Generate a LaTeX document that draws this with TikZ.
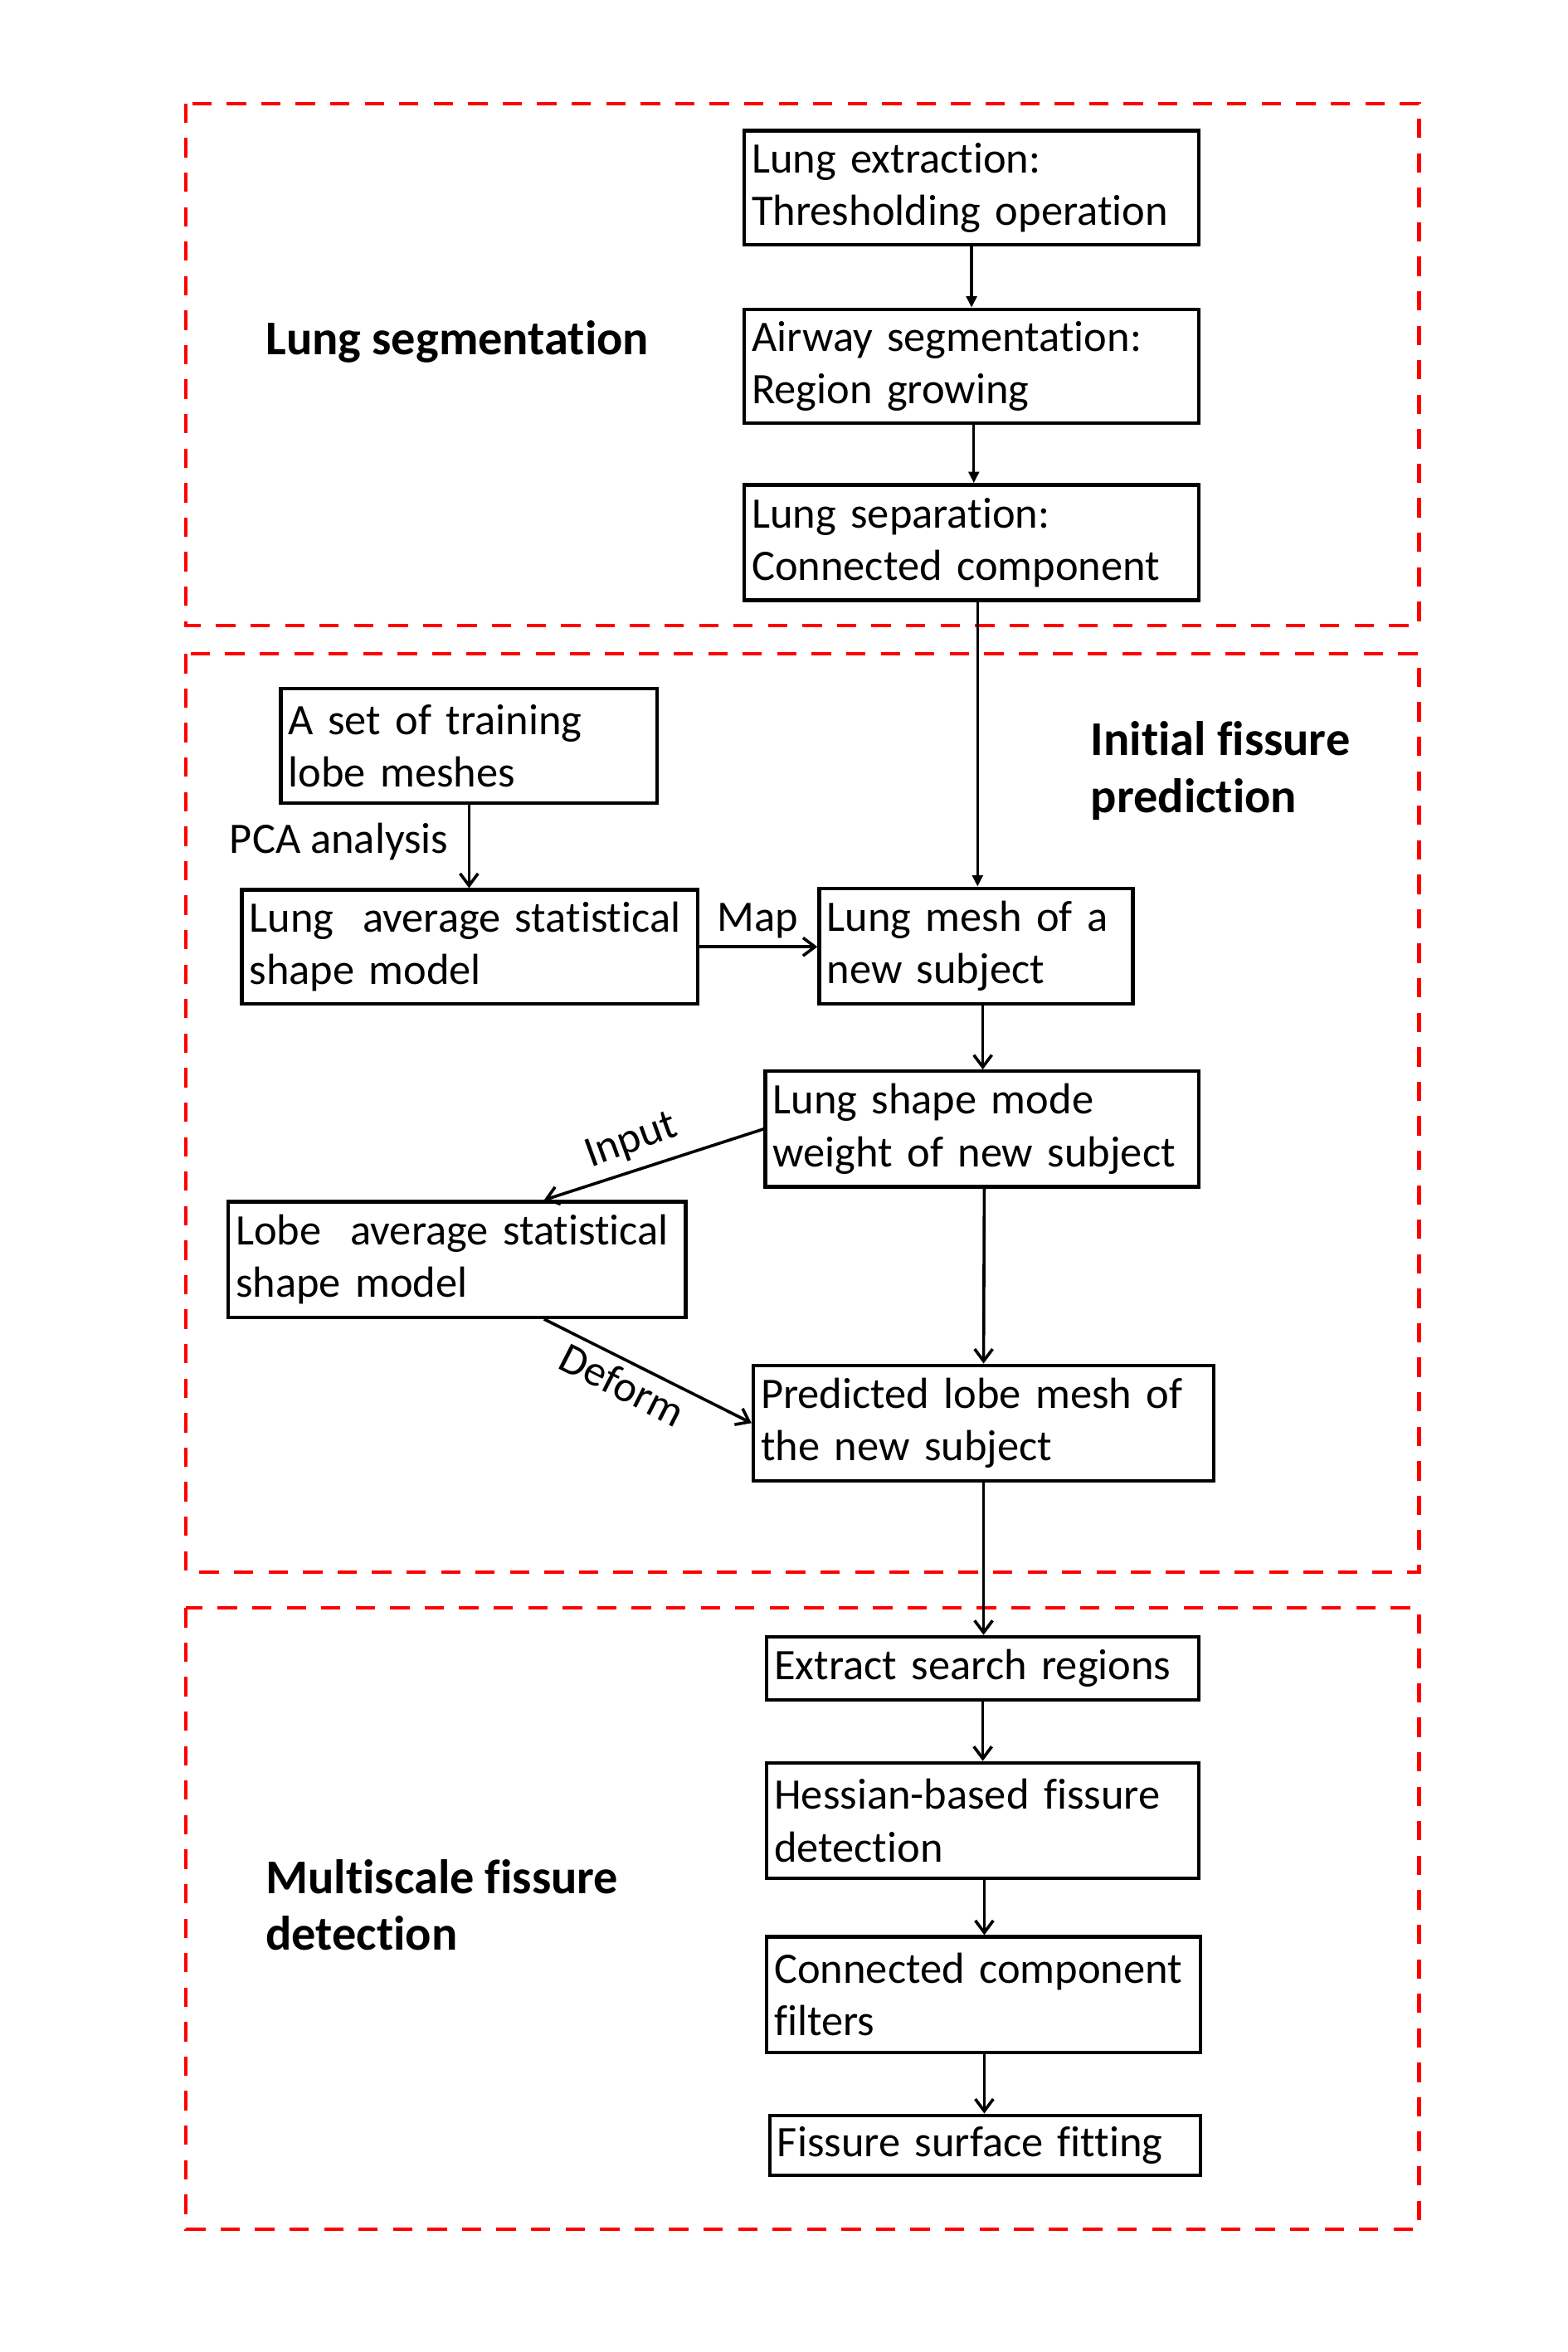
\documentclass[tikz,border=0pt]{standalone}
\usepackage{fontspec}
\setmainfont[Ligatures={NoCommon}]{Carlito}
\usetikzlibrary{arrows.meta,calc}
\begin{document}
\begin{tikzpicture}[x=1pt,y=-1pt,
  bx/.style={draw, line width=2.4pt, inner xsep=5pt, inner ysep=0pt, align=left, anchor=north west,
    font=\fontsize{29}{35}\selectfont},
  grp/.style={draw=red, line width=2.3pt, dash pattern=on 12.9pt off 10.1pt},
  lbl/.style={font=\fontsize{29}{35}\selectfont, inner sep=0pt},
  ttl/.style={font=\fontsize{32.3}{38}\selectfont\bfseries, inner sep=0pt, align=left, anchor=west},
  fa/.style={line width=1.8pt, -{Triangle[length=7.5pt,width=7pt]}},
  oa/.style={line width=2pt, -{Straight Barb[length=8pt,width=12pt,line width=2pt]}}]
\useasboundingbox (0,0) rectangle (1045,1568);
% group frames
\draw[grp] (124,69) rectangle (946,417);
\draw[grp] (124,436) rectangle (946,1048);
\draw[grp] (124,1072) rectangle (946,1486);
% titles
\node[ttl] (t1) at (177,228) {Lung segmentation};
\node[ttl] (t2) at (727,514) {Initial fissure\\prediction};
\node[ttl] (t3) at (177,1270) {Multiscale fissure\\detection};
% boxes
\node[bx, text width=293pt, minimum height=76pt] (b1) at (495,86) {Lung extraction:\\Thresholding operation};
\node[bx, text width=293pt, minimum height=76pt] (b2) at (495,205) {Airway segmentation:\\Region growing};
\node[bx, text width=293pt, minimum height=77pt] (b3) at (495,322) {Lung separation:\\Connected component};
\node[bx, text width=241pt, minimum height=76pt] (b4) at (186,458) {A set of training\\lobe meshes};
\node[bx, text width=294pt, minimum height=76pt] (b5) at (160,592) {Lung\ \ average statistical\\shape model};
\node[bx, text width=199pt, minimum height=77pt] (b6) at (545,591) {Lung mesh of a\\new subject};
\node[bx, text width=279pt, minimum height=77pt] (b7) at (509,713) {Lung shape mode\\weight of new subject};
\node[bx, text width=295pt, minimum height=77pt] (b8) at (151,800) {Lobe\ \ average statistical\\shape model};
\node[bx, text width=297pt, minimum height=77pt] (b9) at (501,909) {Predicted lobe mesh of\\the new subject};
\node[bx, text width=278pt, minimum height=42pt] (b10) at (510,1090) {Extract search regions};
\node[bx, text width=278pt, minimum height=77pt] (b11) at (510,1174) {Hessian-based fissure\\detection};
\node[bx, text width=279pt, minimum height=77pt] (b12) at (510,1290) {Connected component\\filters};
\node[bx, text width=277pt, minimum height=40pt] (b13) at (512,1409) {Fissure surface fitting};
% edge labels
\node[lbl, anchor=west] (l1) at (153,561) {PCA analysis};
\node[lbl, anchor=west] (l2) at (478,614) {Map};
\node[lbl, rotate=20] (l3) at (421,761) {Input};
\node[lbl, rotate=-27] (l4) at (415,923) {Deform};
% connectors
\draw[fa] (b1.south) -- (b2.north);
\draw[fa] ([xshift=1.5pt]b2.south) -- ([xshift=1.5pt]b2.south |- b3.north);
\draw[fa] ([xshift=4pt]b3.south) -- ([xshift=4pt]b3.south |- b6.north);
\draw[oa] (b4.south) -- (b4.south |- b5.north);
\draw[oa] (b5.east) -- (b5.east -| b6.west);
\draw[oa] ([xshift=4.5pt]b6.south) -- ([xshift=4.5pt]b6.south |- b7.north);
\draw[oa] ([xshift=0.5pt]b9.north |- b7.south) -- ([xshift=0pt]b9.north);
\draw[oa] (b7.west) -- ([xshift=58pt]b8.north);
\draw[oa] ([xshift=58pt]b8.south) -- (b9.west);
\draw[oa] (b9.south) -- (b9.south |- b10.north);
\draw[oa] (b10.south) -- (b10.south |- b11.north);
\draw[oa] ([xshift=1pt]b11.south) -- ([xshift=1pt]b11.south |- b12.north);
\draw[oa] ([xshift=0.5pt]b12.south) -- ([xshift=0.5pt]b12.south |- b13.north);
\end{tikzpicture}
\end{document}
